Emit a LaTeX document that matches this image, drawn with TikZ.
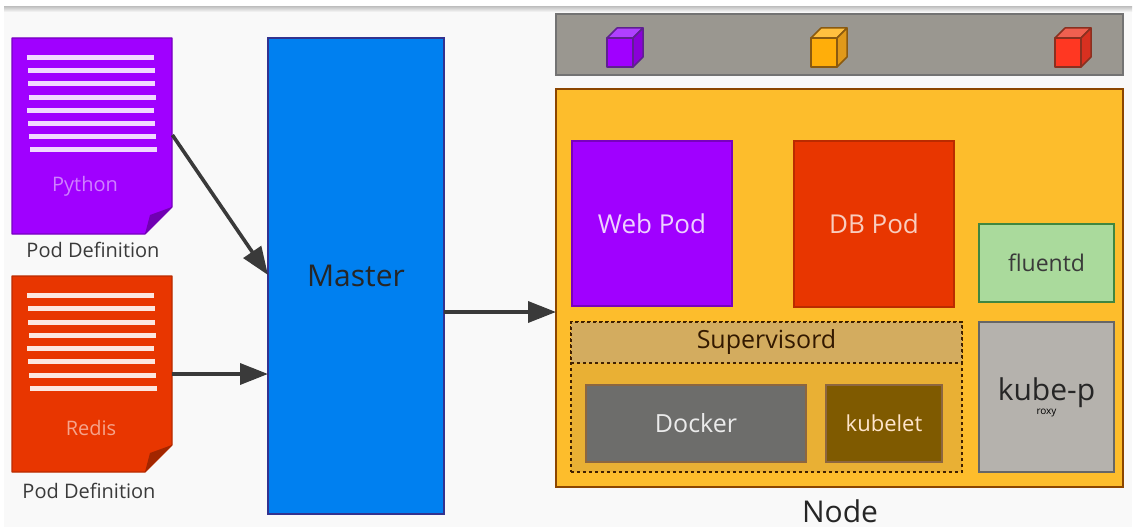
\documentclass[tikz,border=0pt]{standalone}
\usepackage{fontspec}
\setmainfont{Open Sans}
\usetikzlibrary{arrows.meta,calc}
\definecolor{bgc}{HTML}{F9F9F9}
\definecolor{purp}{HTML}{A000FF}
\definecolor{redo}{HTML}{E83600}
\definecolor{inkc}{HTML}{3A3A3A}
\newcommand{\pbox}[7]{\node[boxy,#6,minimum width=#3pt-#1pt,minimum height=#4pt-#2pt,anchor=north west] (#7) at (#1,#2) {#5};}
\tikzset{
  boxy/.style={draw,rectangle,inner sep=0pt,outer sep=0pt,line width=1.2pt,align=center},
  link/.style={draw=inkc,line width=3.6pt,-{Triangle[length=28pt,width=21pt]}},
  sheetline/.style={draw=#1,line width=5pt},
  lbl/.style={text=inkc,inner sep=0pt},
  cube/.style={line width=1.5pt,line join=round},
}
\begin{document}
\begin{tikzpicture}[x=1pt,y=-1pt]
\useasboundingbox (0,0) rectangle (1138,532);
\fill[white] (0,0) rectangle (1138,532);
\fill[bgc] (4,8) rectangle (1132,527);
\shade[top color=black!22,bottom color=bgc,draw=none] (4,7) rectangle (1132,12);
% Python document
\node[rectangle,inner sep=0pt,minimum width=160pt,minimum height=196pt,anchor=north west] (python) at (12,38) {};
\draw[line width=1.2pt,draw=purp!75!black,fill=purp,line join=round] (12,38) -- (172,38) -- (172,207) -- (145,234) -- (12,234) -- cycle;
\fill[purp!70!black] (145,234) -- (150,215) -- (172,207) -- cycle;
\foreach \yy/\xa in {58/27,71/28,84/28,98/29,111/27,124/28,137/29,150/30}
  \draw[sheetline=white!85!purp] (\xa,\yy) -- ++(127,0);
\node[lbl,text=white!50!purp,font=\fontsize{20}{24}\selectfont] (pythonlabel) at (85,186) {Python};
\node[lbl,font=\fontsize{20}{24}\selectfont] (pod1) at (93,250) {Pod Definition};
% Redis document
\node[rectangle,inner sep=0pt,minimum width=160pt,minimum height=196pt,anchor=north west] (redis) at (12,276) {};
\draw[line width=1.2pt,draw=redo!80!black,fill=redo,line join=round] (12,276) -- (172,276) -- (172,445) -- (145,472) -- (12,472) -- cycle;
\fill[redo!70!black] (145,472) -- (150,453) -- (172,445) -- cycle;
\foreach \yy/\xa in {295/27,308/28,322/28,335/29,348/27,361/28,375/29,388/30}
  \draw[sheetline=white!88!redo] (\xa,\yy) -- ++(127,0);
\node[lbl,text=white!55!redo,font=\fontsize{20}{24}\selectfont] (redislabel) at (91,428) {Redis};
\node[lbl,font=\fontsize{20}{24}\selectfont] (pod2) at (89,491) {Pod Definition};
% Master
\pbox{268}{38}{444}{514}{\fontsize{30}{36}\selectfont\color{black!85}Master}{draw=black!40!blue!60!gray,fill={rgb,255:red,0;green,128;blue,240}}{master}
% Top bar with cubes
\pbox{556}{14}{1123}{75}{}{draw=black!55,fill={rgb,255:red,154;green,151;blue,144}}{bar}
\foreach \xx/\fc/\sc/\tc/\dc in {607/A000FF/8A00D8/B040FF/5F2090,811/FFAE0A/E0991A/FFC040/8A5A10,1055/FF3722/D83020/F06050/8A3020}{
  \definecolor{cf}{HTML}{\fc}\definecolor{cs}{HTML}{\sc}\definecolor{ct}{HTML}{\tc}\definecolor{cd}{HTML}{\dc}
  \draw[cube,draw=cd,fill=cf] (\xx,38) rectangle ++(26,29);
  \draw[cube,draw=cd,fill=ct] (\xx,38) -- ++(10,-10) -- ++(26,0) -- ++(-10,10) -- cycle;
  \draw[cube,draw=cd,fill=cs] (\xx+26,38) -- ++(10,-10) -- ++(0,29) -- ++(-10,10) -- cycle;
}
% Node area
\pbox{556}{89}{1123}{487}{}{draw=black!45!orange,fill={rgb,255:red,253;green,189;blue,44}}{nodearea}
\pbox{572}{141}{732}{306}{\fontsize{26}{31}\selectfont\color{white!82!purp}Web Pod}{draw=purp!75!black,fill=purp}{web}
\pbox{794}{141}{954}{307}{\fontsize{26}{31}\selectfont\color{white!75!redo}DB Pod}{draw=redo!80!black,fill=redo}{db}
\pbox{979}{224}{1114}{302}{\fontsize{23}{28}\selectfont\color{inkc}fluentd}{draw=black!45!green!50!gray,fill={rgb,255:red,170;green,218;blue,156}}{fluentd}
\pbox{979}{322}{1114}{472}{\fontsize{30}{42}\selectfont\color{black!85}kube-p\\roxy}{draw=black!60,fill={rgb,255:red,181;green,178;blue,173}}{proxy}
% Supervisord
\pbox{571}{322}{962}{472}{}{draw=black!75!orange,dashed,fill={rgb,255:red,233;green,176;blue,52}}{supervisor}
\pbox{571}{322}{962}{363}{\fontsize{25}{30}\selectfont\color{black!80!orange}Supervisord}{draw=black!75!orange,dashed,fill={rgb,255:red,211;green,172;blue,95}}{superband}
\pbox{586}{385}{806}{462}{\fontsize{25}{30}\selectfont\color{white!92!black}Docker}{draw=black!40!orange!50!gray,fill={rgb,255:red,109;green,109;blue,107}}{docker}
\pbox{826}{385}{942}{462}{\fontsize{22}{26}\selectfont\color{white!80!orange}kubelet}{draw=black!40!orange!50!gray,fill={rgb,255:red,127;green,90;blue,0}}{kubelet}
\node[lbl,text=black!85,font=\fontsize{30}{36}\selectfont] (nodelabel) at (840,511) {Node};
% Connectors
\coordinate (a1s) at (python.north east |- 0,135);
\coordinate (a1e) at (master.north west |- 0,275);
\coordinate (a2s) at (redis.north east |- 0,374);
\coordinate (a2e) at (master.north west |- 0,374);
\coordinate (a3s) at (master.north east |- 0,312);
\coordinate (a3e) at (nodearea.north west |- 0,312);
\draw[link] (a1s) -- (a1e);
\draw[link] (a2s) -- (a2e);
\draw[link] (a3s) -- (a3e);
\end{tikzpicture}
\end{document}
